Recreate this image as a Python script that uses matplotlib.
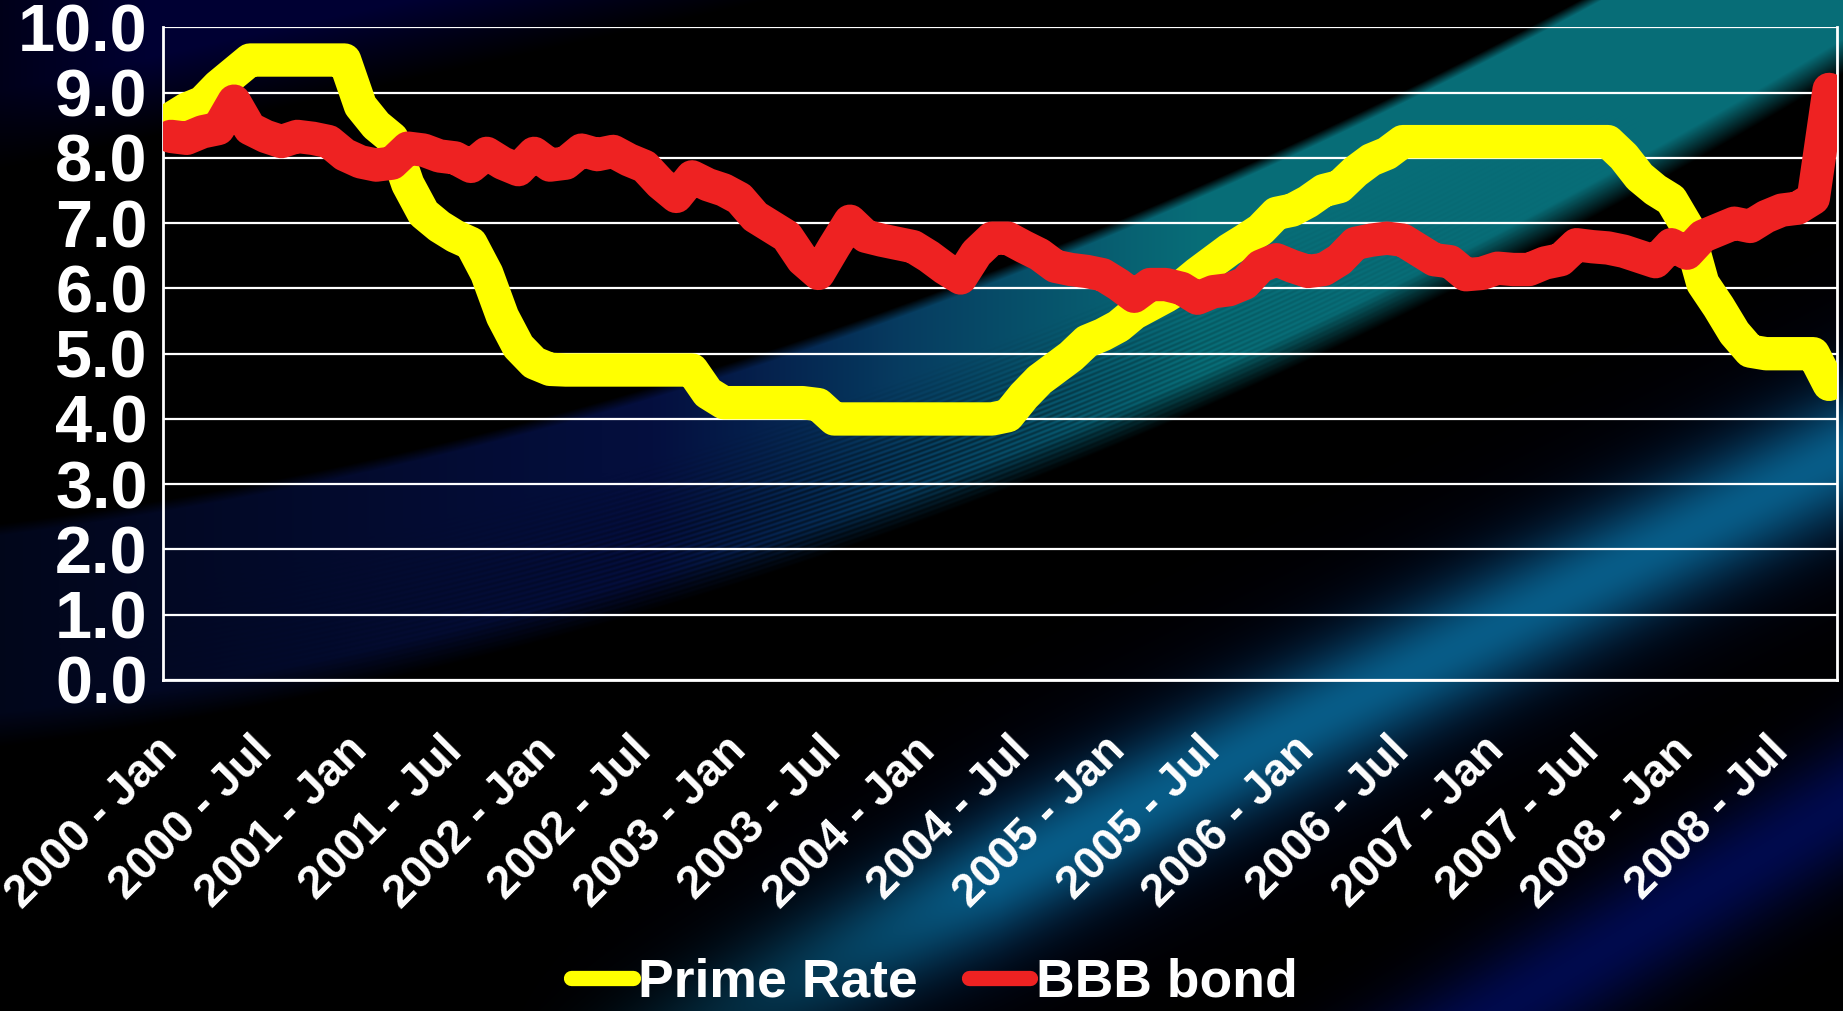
import numpy as np
import matplotlib.pyplot as plt
from matplotlib import font_manager
from matplotlib.lines import Line2D

plt.rcParams['font.family'] = ['Liberation Sans', 'DejaVu Sans']
plt.rcParams['font.weight'] = 'bold'

# the axis labels are set in a narrow face when one is available
_names = {f.name for f in font_manager.fontManager.ttflist}
HAS_NARROW = 'Liberation Sans Narrow' in _names
label_family = ['Liberation Sans Narrow', 'Liberation Sans'] if HAS_NARROW else ['Liberation Sans']
xlabel_size = 38 if HAS_NARROW else 33

# Monthly rates, Jan 2000 .. Oct 2008 (percent)
prime_rate = [
    8.6, 8.75, 8.85, 9.1, 9.3, 9.5, 9.5, 9.5, 9.5, 9.5, 9.5, 9.5,          # 2000
    8.8, 8.5, 8.3, 7.6, 7.15, 6.95, 6.8, 6.69, 6.23, 5.57, 5.11, 4.86,     # 2001
    4.76, 4.75, 4.75, 4.75, 4.75, 4.75, 4.75, 4.75, 4.75, 4.75, 4.4, 4.25,  # 2002
    4.25, 4.25, 4.25, 4.25, 4.25, 4.22, 4.0, 4.0, 4.0, 4.0, 4.0, 4.0,      # 2003
    4.0, 4.0, 4.0, 4.0, 4.0, 4.05, 4.35, 4.6, 4.78, 4.96, 5.19, 5.29,      # 2004
    5.42, 5.62, 5.75, 5.88, 6.03, 6.23, 6.41, 6.59, 6.74, 6.9, 7.15, 7.2,  # 2005
    7.33, 7.5, 7.56, 7.79, 7.97, 8.07, 8.25, 8.25, 8.25, 8.25, 8.25, 8.25,  # 2006
    8.25, 8.25, 8.25, 8.25, 8.25, 8.25, 8.25, 8.25, 8.02, 7.71, 7.51, 7.36,  # 2007
    6.95, 6.08, 5.72, 5.32, 5.04, 5.0, 5.0, 5.0, 5.0, 4.53,                # 2008
]
bbb_bond = [
    8.33, 8.30, 8.40, 8.45, 8.87, 8.45, 8.33, 8.25, 8.33, 8.30, 8.25, 8.05,  # 2000
    7.94, 7.89, 7.92, 8.15, 8.12, 8.03, 8.00, 7.87, 8.07, 7.92, 7.82, 8.07,  # 2001
    7.89, 7.92, 8.12, 8.05, 8.10, 7.97, 7.87, 7.61, 7.41, 7.71, 7.59, 7.51,  # 2002
    7.38, 7.10, 6.95, 6.80, 6.44, 6.23, 6.64, 7.03, 6.80, 6.74, 6.69, 6.64,  # 2003
    6.49, 6.31, 6.16, 6.54, 6.77, 6.77, 6.64, 6.52, 6.34, 6.29, 6.26, 6.21,  # 2004
    6.06, 5.88, 6.06, 6.06, 6.00, 5.85, 5.95, 5.98, 6.08, 6.34, 6.44, 6.34,  # 2005
    6.26, 6.29, 6.44, 6.69, 6.74, 6.77, 6.74, 6.59, 6.44, 6.41, 6.21, 6.23,  # 2006
    6.31, 6.29, 6.29, 6.39, 6.44, 6.67, 6.64, 6.62, 6.57, 6.49, 6.41, 6.67,  # 2007
    6.54, 6.80, 6.90, 7.00, 6.95, 7.10, 7.20, 7.23, 7.38, 9.05,              # 2008
]
tick_labels = [f'{y} - {m}' for y in range(2000, 2009) for m in ('Jan', 'Jul')]
y_ticks = [0, 1, 2, 3, 4, 5, 6, 7, 8, 9, 10]

W, H = 1843, 1011


def make_background():
    yy, xx = np.mgrid[0:H, 0:W].astype(float)
    img = np.zeros((H, W, 3))

    # broad streaky band rising to the upper right
    y_low = 373 - 0.4594 * (xx - 1280) - 1.306e-4 * (xx - 1280) ** 2
    yc = y_low - 112
    d = yy - yc
    top = np.clip((d + 112) / 12, 0, 1)
    bot = np.clip((112 - d) / 35, 0, 1)
    prof = top * bot
    s = np.clip((xx - 650) / 550, 0, 1)
    amp = 0.35 + 0.65 * np.clip(xx / 900, 0, 1)
    navy = np.array([0.02, 0.07, 0.30])
    teal = np.array([0.03, 0.43, 0.47])
    streak_w = np.exp(-((xx - 850) / 380) ** 2) * np.clip((d + 40) / 80, 0, 1)
    streaks = 1 - 0.45 * streak_w * (0.5 + 0.5 * np.sin(2 * np.pi * d / 5.0))
    col = navy * (1 - s)[..., None] + teal * s[..., None]
    img += col * (prof * amp * streaks)[..., None]

    # second teal band further down
    yb = 823 - 0.5 * (xx - 1105)
    db = yy - yb
    core = np.exp(-(db / 65) ** 2)
    halo = np.exp(-(db / 115) ** 2)
    fade = np.clip((xx - 500) / 500, 0, 1)
    img += (np.array([0.03, 0.34, 0.40]) * core[..., None]
            + np.array([0.0, 0.02, 0.13]) * halo[..., None]) * fade[..., None]

    # dark blue band in the lower right
    yc2 = 1011 - 0.6 * (xx - 1500)
    dc = yy - yc2
    img += np.array([0.0, 0.04, 0.30]) * np.exp(-(dc / 70) ** 2)[..., None]

    # navy haze at the top left
    edge = 170 - 0.22 * xx
    haze = np.clip((edge - yy) / 80, 0, 1)
    haze *= np.clip(0.5 + xx / 300, 0, 1) * np.clip((1100 - xx) / 400, 0, 1)
    img += np.array([0.0, 0.0, 0.20]) * haze[..., None]

    return np.clip(img, 0, 1)


fig = plt.figure(figsize=(W / 100, H / 100), dpi=100, facecolor='black')
bg = fig.add_axes([0, 0, 1, 1], zorder=0)
bg.imshow(make_background(), aspect='auto', interpolation='bilinear')
bg.axis('off')

ax = fig.add_axes([163 / W, 1 - 680 / H, 1674 / W, 652.6 / H], zorder=1)
ax.set_facecolor('none')

x = np.arange(len(prime_rate))
ax.plot(x, prime_rate, color='#ffff00', lw=24, solid_joinstyle='round',
        solid_capstyle='round', zorder=3)
ax.plot(x, bbb_bond, color='#ee2222', lw=24, solid_joinstyle='round',
        solid_capstyle='round', zorder=4)

ax.set_xlim(-0.5, len(prime_rate) - 0.5)
ax.set_ylim(0, 10)
ax.set_yticks(y_ticks)
ax.set_yticklabels([f'{v:.1f}' for v in y_ticks], fontsize=48,
                   color='white', fontweight='bold')
ax.set_xticks(np.arange(0, len(prime_rate), 6))
ax.set_xticklabels(tick_labels, rotation=45, ha='right', va='center',
                   rotation_mode='anchor', fontsize=xlabel_size, color='white',
                   fontweight='bold', family=label_family)
ax.tick_params(axis='y', length=0, pad=11)
ax.tick_params(axis='x', length=0, pad=46)

ax.grid(axis='y', color='white', lw=1.6, zorder=1)
ax.set_axisbelow(True)
for side in ('left', 'bottom', 'right'):
    ax.spines[side].set_color('white')
    ax.spines[side].set_linewidth(2)
ax.spines['top'].set_visible(False)

handles = [Line2D([], [], color='#ffff00', lw=11, solid_capstyle='round'),
           Line2D([], [], color='#ee2222', lw=11, solid_capstyle='round')]
fig.legend(handles, ['Prime Rate', 'BBB bond'], loc='lower center',
           bbox_to_anchor=(0.507, -0.023), ncol=2, frameon=False,
           labelcolor='white', handlelength=1.15, handletextpad=0.1,
           columnspacing=0.95, borderpad=0,
           prop={'weight': 'bold', 'size': 38.5})

fig.savefig('out.png', dpi=100, facecolor='black')
